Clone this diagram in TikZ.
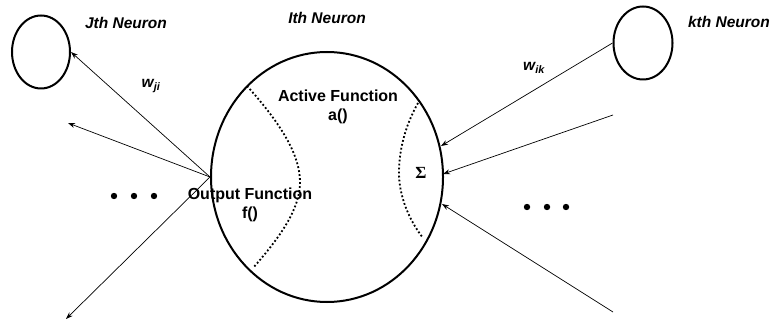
\documentclass[tikz,border=0pt]{standalone}
\usepackage{fontspec}
\setmainfont{Liberation Sans}
\newfontfamily\sigfont{Liberation Serif}
\usetikzlibrary{shapes.geometric,arrows.meta}
\begin{document}
\begin{tikzpicture}[x=1pt,y=-1pt,
  neuron/.style={draw,ellipse,line width=2pt,inner sep=0pt},
  conn/.style={line width=0.7pt,-{Stealth[length=7pt,width=5pt]}},
  title/.style={font=\fontsize{15.5}{17}\selectfont\bfseries\itshape},
  fn/.style={font=\fontsize{16}{19}\selectfont\bfseries,align=center},
  sep/.style={line width=1.8pt,dash pattern=on 1.8pt off 2.2pt},
  dotmark/.style={fill=black}]
\useasboundingbox (0,0) rectangle (773,320);
% neurons
\node[neuron,minimum width=58pt,minimum height=73pt] (J) at (41,52) {};
\node[neuron,minimum width=59pt,minimum height=73pt] (K) at (643,43) {};
\node[neuron,minimum width=232pt,minimum height=250pt] (I) at (327,177) {};
% labels
\node[title] (jl) at (126,23) {Jth Neuron};
\node[title] (il) at (327,18) {Ith Neuron};
\node[title] (kl) at (729,22) {kth Neuron};
\node[title] (wji) at (151,86) {w\textsubscript{ji}};
\node[title] (wik) at (534,68) {w\textsubscript{ik}};
% separators inside big neuron
\draw[sep] (247,86) .. controls (285,128) and (300,158) .. (300,182)
           .. controls (300,208) and (282,235) .. (253,268);
\draw[sep] (418,103) .. controls (404,128) and (399,152) .. (399,173)
           .. controls (399,196) and (409,220) .. (423,238);
% function texts
\node[fn] (af) at (338,107) {Active Function\\a()};
\node[fn] (of) at (250,205) {Output Function\\f()};
\node[font=\fontsize{17}{19}\selectfont\sigfont\bfseries] (sig) at (421,173) {Σ};
% free ends
\coordinate (o2) at (68,123);
\coordinate (o3) at (66,319);
\coordinate (in2) at (613,115);
\coordinate (in3) at (613,312);
\coordinate (e1) at (441,146);
\coordinate (e2) at (443,174);
\coordinate (e3) at (442,204);
% output arrows
\draw[conn] (I.west) -- (J.east);
\draw[conn] (I.west) -- (o2);
\draw[conn] (I.west) -- (o3);
% input arrows
\draw[conn] (K.west) -- (e1);
\draw[conn] (in2) -- (e2);
\draw[conn] (in3) -- (e3);
% ellipsis dots
\foreach \x in {114,134,154} \fill[dotmark] (\x,196) circle (3.2);
\foreach \x in {527,547,566} \fill[dotmark] (\x,207) circle (3.2);
\end{tikzpicture}
\end{document}
